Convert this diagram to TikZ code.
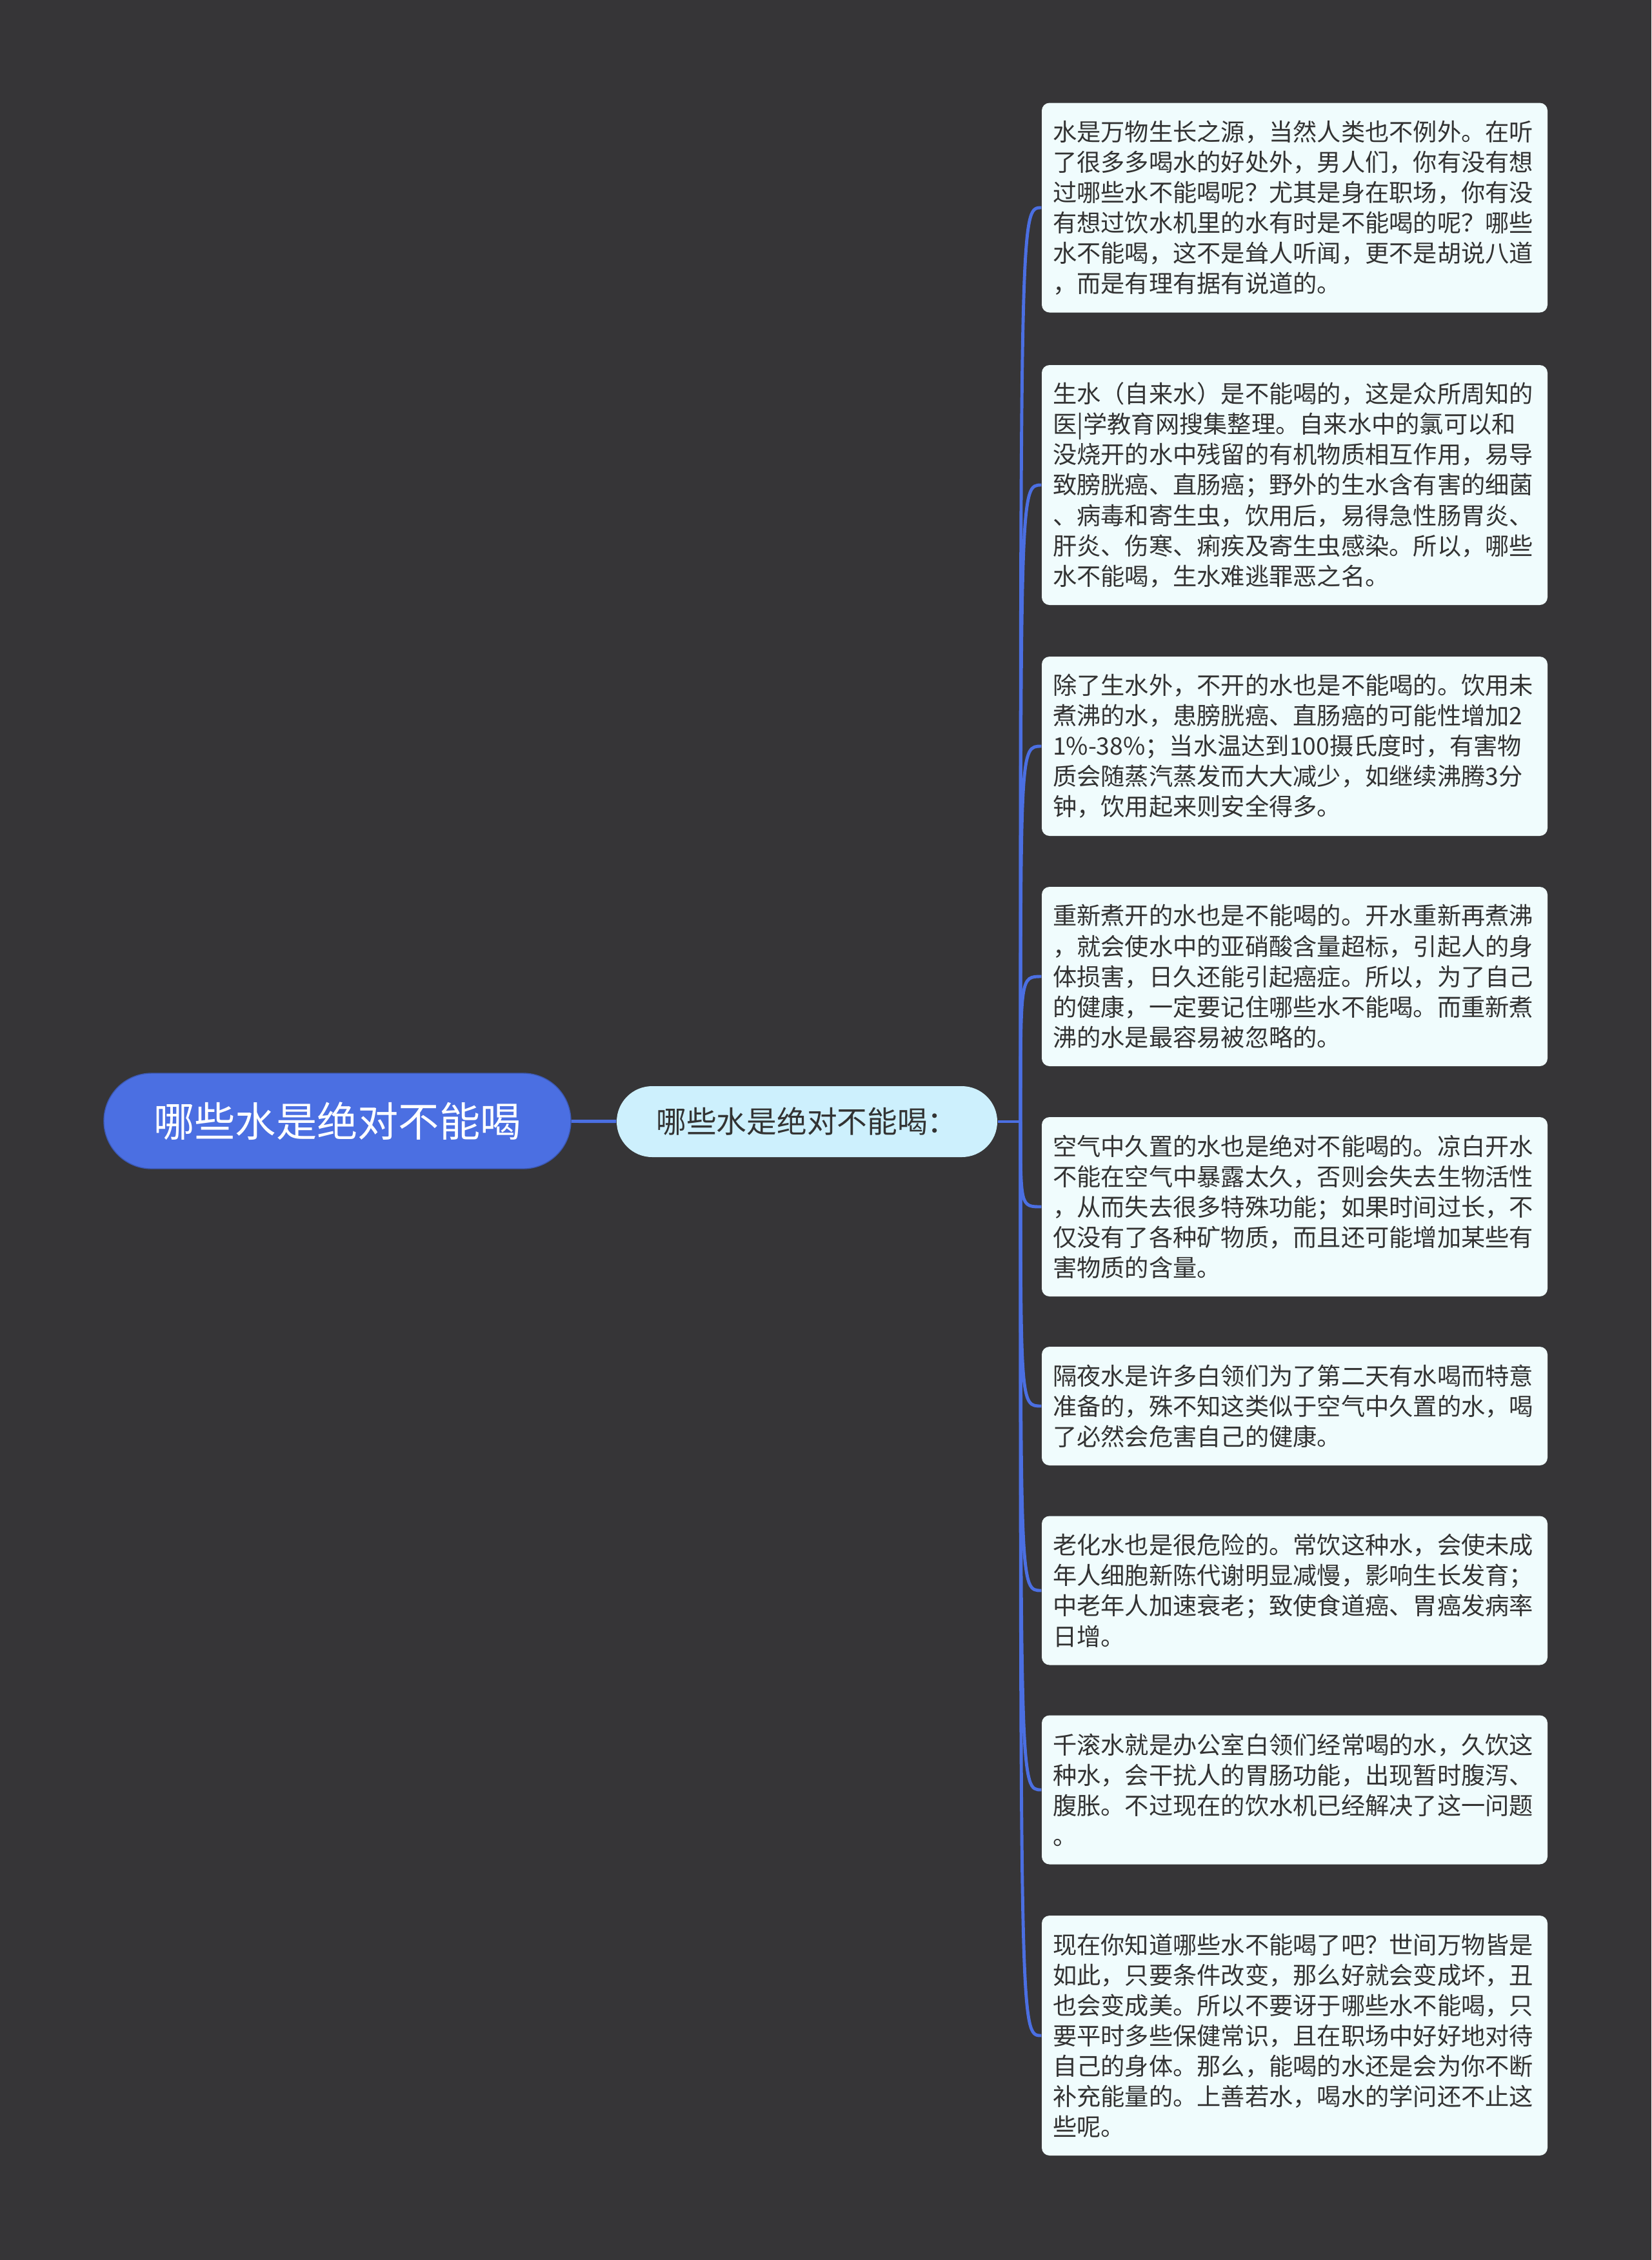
\documentclass[tikz,border=0pt]{standalone}
\usepackage{fontspec}
\setmainfont{Noto Sans CJK SC}
\definecolor{bgdark}{RGB}{54,53,55}
\definecolor{mapblue}{HTML}{4B6FE2}
\definecolor{subfill}{HTML}{CDF0FD}
\definecolor{leaffill}{HTML}{F0FCFD}
\definecolor{leaftext}{HTML}{333333}
\begin{document}
\begin{tikzpicture}[
    rootbox/.style={fill=mapblue, draw=mapblue!80!black, text=white, rounded corners=0.74cm,
        minimum width=7.24cm, minimum height=1.48cm, font=\fontsize{18pt}{22pt}\selectfont},
    subbox/.style={fill=subfill, text=leaftext, rounded corners=0.55cm,
        minimum width=5.9cm, minimum height=1.1cm, font=\fontsize{13.3pt}{16pt}\selectfont},
    leafbox/.style={fill=leaffill, text=leaftext, rounded corners=0.12cm, align=left,
        text width=7.5cm, inner xsep=0.17cm, inner ysep=0pt,
        font=\fontsize{10.6pt}{13.4pt}\selectfont},
    link/.style={draw=mapblue, line width=1.4pt}
  ]
  \fill[bgdark] (0,0) rectangle (25.6,-35.04);
  \useasboundingbox (0,0) rectangle (25.6,-35.04);
  % Centre
  \node[rootbox] (root) at (5.23,-17.38) {哪些水是绝对不能喝};
  \node[subbox] (sub) at (12.51,-17.39) {哪些水是绝对不能喝：};
  \coordinate (J) at (15.82,-17.39);
  % Leaves
  \node[leafbox, minimum height=3.25cm] (l1) at (20.07,-3.22) {水是万物生长之源，当然人类也不例外。在听\\了很多多喝水的好处外，男人们，你有没有想\\过哪些水不能喝呢？尤其是身在职场，你有没\\有想过饮水机里的水有时是不能喝的呢？哪些\\水不能喝，这不是耸人听闻，更不是胡说八道\\，而是有理有据有说道的。};
  \node[leafbox, minimum height=3.72cm] (l2) at (20.07,-7.52) {生水（自来水）是不能喝的，这是众所周知的\\医|学教育网搜集整理。自来水中的氯可以和\\没烧开的水中残留的有机物质相互作用，易导\\致膀胱癌、直肠癌；野外的生水含有害的细菌\\、病毒和寄生虫，饮用后，易得急性肠胃炎、\\肝炎、伤寒、痢疾及寄生虫感染。所以，哪些\\水不能喝，生水难逃罪恶之名。};
  \node[leafbox, minimum height=2.78cm] (l3) at (20.07,-11.57) {除了生水外，不开的水也是不能喝的。饮用未\\煮沸的水，患膀胱癌、直肠癌的可能性增加2\\1\%-38\%；当水温达到100摄氏度时，有害物\\质会随蒸汽蒸发而大大减少，如继续沸腾3分\\钟，饮用起来则安全得多。};
  \node[leafbox, minimum height=2.78cm] (l4) at (20.07,-15.14) {重新煮开的水也是不能喝的。开水重新再煮沸\\，就会使水中的亚硝酸含量超标，引起人的身\\体损害，日久还能引起癌症。所以，为了自己\\的健康，一定要记住哪些水不能喝。而重新煮\\沸的水是最容易被忽略的。};
  \node[leafbox, minimum height=2.78cm] (l5) at (20.07,-18.71) {空气中久置的水也是绝对不能喝的。凉白开水\\不能在空气中暴露太久，否则会失去生物活性\\，从而失去很多特殊功能；如果时间过长，不\\仅没有了各种矿物质，而且还可能增加某些有\\害物质的含量。};
  \node[leafbox, minimum height=1.84cm] (l6) at (20.07,-21.80) {隔夜水是许多白领们为了第二天有水喝而特意\\准备的，殊不知这类似于空气中久置的水，喝\\了必然会危害自己的健康。};
  \node[leafbox, minimum height=2.31cm] (l7) at (20.07,-24.66) {老化水也是很危险的。常饮这种水，会使未成\\年人细胞新陈代谢明显减慢，影响生长发育；\\中老年人加速衰老；致使食道癌、胃癌发病率\\日增。};
  \node[leafbox, minimum height=2.31cm] (l8) at (20.07,-27.75) {千滚水就是办公室白领们经常喝的水，久饮这\\种水，会干扰人的胃肠功能，出现暂时腹泻、\\腹胀。不过现在的饮水机已经解决了这一问题\\。};
  \node[leafbox, minimum height=3.72cm] (l9) at (20.07,-31.56) {现在你知道哪些水不能喝了吧？世间万物皆是\\如此，只要条件改变，那么好就会变成坏，丑\\也会变成美。所以不要讶于哪些水不能喝，只\\要平时多些保健常识，且在职场中好好地对待\\自己的身体。那么，能喝的水还是会为你不断\\补充能量的。上善若水，喝水的学问还不止这\\些呢。};
  % Links
  \draw[link] (root) -- (sub);
  \draw[link] (sub.east) -- (J);
  \foreach \i in {1,...,9}
    \draw[link] (J) .. controls (J |- l\i.west) .. (l\i.west);
\end{tikzpicture}
\end{document}
